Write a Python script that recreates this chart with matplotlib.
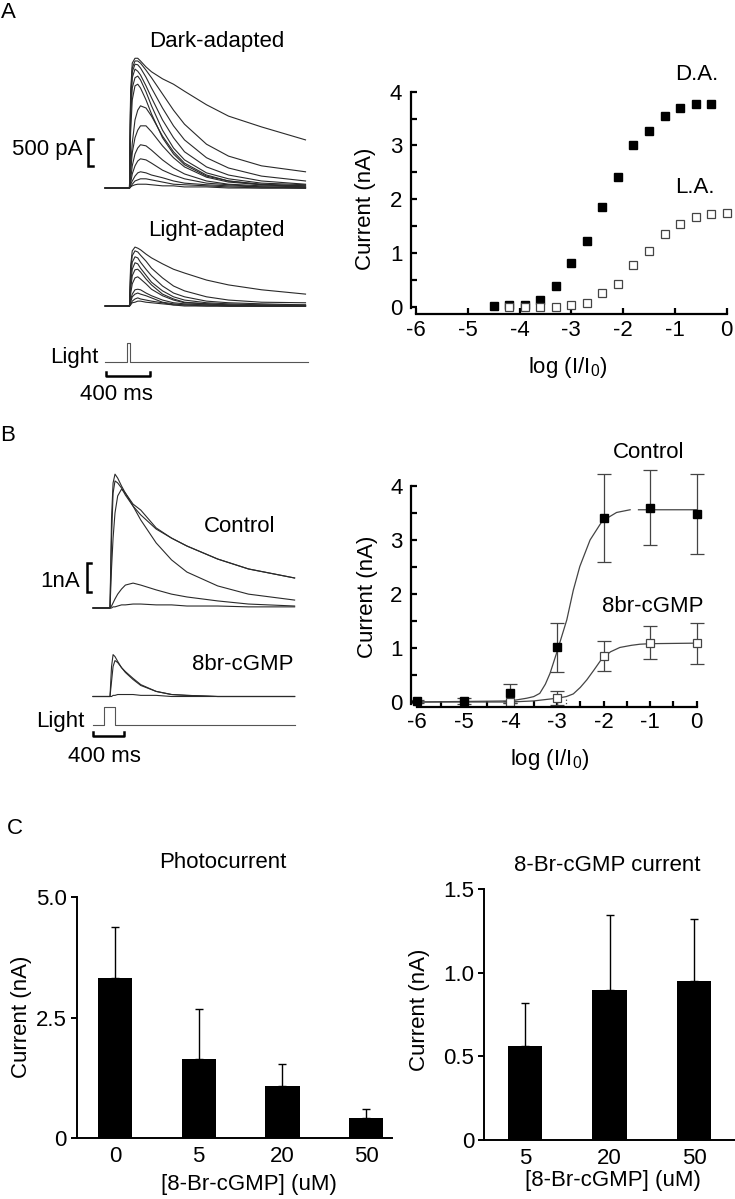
import numpy as np
import matplotlib
matplotlib.use("Agg")
import matplotlib.pyplot as plt

plt.rcParams['font.family'] = ['Liberation Sans', 'DejaVu Sans']
plt.rcParams['mathtext.default'] = 'regular'
plt.rcParams['axes.unicode_minus'] = False

W, H = 735, 1199

# ---- Panel A left: photocurrent traces (time in ms from flash, current in pA)
T_A = [-220, 0, 10, 25, 50, 75, 100, 150, 200, 300, 400, 500, 700, 900, 1200, 1600]
DARK_PA = [
    [0, 0, 1760, 2310, 2400, 2400, 2350, 2240, 2150, 2020, 1920, 1790, 1540, 1330, 1130, 890],
    [0, 0, 1670, 2220, 2350, 2350, 2310, 2180, 2040, 1740, 1440, 1180, 810, 590, 410, 300],
    [0, 0, 1570, 2150, 2290, 2280, 2220, 2050, 1850, 1480, 1150, 890, 560, 370, 220, 130],
    [0, 0, 1480, 2040, 2200, 2160, 2090, 1890, 1670, 1260, 930, 670, 390, 240, 130, 70],
    [0, 0, 1300, 1850, 2040, 2070, 2000, 1780, 1520, 1070, 740, 520, 280, 170, 90, 60],
    [0, 0, 1020, 1630, 1890, 1920, 1850, 1630, 1370, 930, 630, 430, 220, 130, 70, 40],
    [0, 0, 370, 830, 1260, 1440, 1520, 1480, 1330, 960, 670, 460, 240, 130, 60, 40],
    [0, 0, 280, 650, 930, 1070, 1150, 1150, 1040, 780, 560, 390, 200, 110, 60, 20],
    [0, 0, 150, 410, 630, 740, 800, 780, 700, 520, 370, 260, 130, 70, 40, 20],
    [0, 0, 90, 260, 410, 500, 540, 520, 460, 330, 240, 170, 90, 60, 20, 0],
    [0, 0, 60, 130, 220, 280, 300, 280, 240, 190, 130, 90, 60, 40, 20, 0],
    [0, 0, 20, 70, 130, 150, 170, 170, 150, 110, 70, 60, 40, 20, 0, 0],
    [0, 0, 20, 40, 60, 70, 70, 70, 60, 40, 40, 20, 20, 0, 0, 0],
]
LIGHT_PA = [
    [0, 0, 740, 1020, 1090, 1070, 1040, 960, 890, 780, 680, 610, 480, 390, 300, 220],
    [0, 0, 650, 930, 1020, 1000, 940, 830, 700, 520, 370, 280, 170, 110, 70, 60],
    [0, 0, 520, 810, 910, 890, 810, 680, 560, 370, 240, 170, 90, 60, 40, 20],
    [0, 0, 410, 680, 800, 780, 700, 570, 440, 280, 170, 110, 60, 40, 20, 20],
    [0, 0, 310, 560, 670, 680, 630, 500, 390, 220, 130, 70, 40, 20, 20, 0],
    [0, 0, 220, 410, 520, 540, 500, 410, 310, 190, 110, 60, 40, 20, 0, 0],
    [0, 0, 110, 220, 300, 310, 300, 240, 190, 110, 60, 40, 20, 0, 0, 0],
    [0, 0, 70, 170, 220, 240, 220, 190, 150, 70, 40, 20, 20, 0, 0, 0],
    [0, 0, 40, 90, 130, 150, 130, 110, 90, 60, 20, 20, 0, 0, 0, 0],
    [0, 0, 20, 60, 70, 90, 90, 70, 60, 40, 20, 0, 0, 0, 0, 0],
]
STIM_T_A = [-220, -25, -25, 5, 5, 1620]
STIM_T_B = [-220, -72, -72, 65, 65, 2400]
STIM_LEVEL = [0, 0, 1, 1, 0, 0]

# ---- Panel A right: intensity-response
DA_X = [-4.5, -4.2, -3.9, -3.6, -3.3, -3.0, -2.7, -2.4, -2.1, -1.8, -1.5, -1.2, -0.9, -0.6, -0.3]
DA_Y = [0.02, 0.03, 0.03, 0.12, 0.38, 0.82, 1.23, 1.85, 2.41, 3.0, 3.27, 3.55, 3.69, 3.78, 3.78]
LA_X = [-4.2, -3.9, -3.6, -3.3, -3.0, -2.7, -2.4, -2.1, -1.8, -1.5, -1.2, -0.9, -0.6, -0.3, 0.0]
LA_Y = [0.0, 0.0, 0.0, 0.0, 0.03, 0.07, 0.26, 0.43, 0.78, 1.04, 1.35, 1.54, 1.66, 1.72, 1.75]

# ---- Panel B left: traces (time in ms, current in nA)
T_B = [-220, 0, 20, 40, 65, 100, 150, 200, 300, 400, 600, 800, 1000, 1400, 1800, 2400]
CONTROL_NA = [
    [0, 0, 3.18, 4.42, 4.73, 4.59, 4.31, 4.06, 3.67, 3.46, 2.83, 2.47, 2.19, 1.73, 1.38, 1.06],
    [0, 0, 2.47, 4.06, 4.49, 4.42, 4.24, 3.99, 3.60, 3.29, 2.79, 2.47, 2.19, 1.73, 1.38, 1.06],
    [0, 0, 1.41, 2.47, 3.36, 3.96, 4.20, 4.06, 3.60, 3.11, 2.30, 1.70, 1.27, 0.78, 0.49, 0.28],
    [0, 0, 0.07, 0.18, 0.32, 0.49, 0.67, 0.81, 0.88, 0.81, 0.64, 0.49, 0.39, 0.25, 0.14, 0.07],
    [0, 0, 0, 0.04, 0.04, 0.07, 0.11, 0.11, 0.14, 0.14, 0.11, 0.11, 0.07, 0.07, 0.04, 0.04],
]
CGMP_NA = [
    [0, 0, 1.06, 1.48, 1.41, 1.24, 1.02, 0.85, 0.60, 0.39, 0.18, 0.07, 0.04, 0, 0, 0],
    [0, 0, 0.53, 1.06, 1.27, 1.20, 1.02, 0.88, 0.64, 0.42, 0.18, 0.07, 0.04, 0, 0, 0],
    [0, 0, 0, 0.04, 0.04, 0.07, 0.07, 0.07, 0.07, 0.04, 0.04, 0, 0, 0, 0, 0],
]

# ---- Panel B right: mean +/- error with fitted curves
LOGI = [-6, -5, -4, -3, -2, -1, 0]
CTRL_Y = [0.01, 0.02, 0.16, 1.01, 3.41, 3.60, 3.49]
CTRL_ERR = [0.03, 0.06, 0.17, 0.45, 0.81, 0.69, 0.74]
CGMP_X = [-4, -3, -2, -1, 0]
CGMP_Y = [0.0, 0.08, 0.85, 1.10, 1.09]
CGMP_ERR = [0.02, 0.13, 0.28, 0.31, 0.38]
CTRL_FIT_X = [-6, -4, -3.65, -3.5, -3.37, -3.25, -3.15, -3.0, -2.79, -2.65, -2.51, -2.29,
              -2.03, -1.72, -1.43, np.nan, -1.25, 0]
CTRL_FIT_Y = [0, 0.02, 0.07, 0.1, 0.16, 0.33, 0.53, 0.93, 1.52, 2.07, 2.51, 3.0,
              3.35, 3.51, 3.56, np.nan, 3.56, 3.56]
CGMP_FIT_X = [-6, -4, -3.5, -3.0, -2.8, -2.65, -2.5, -2.36, -2.2, -2.03, -1.85, -1.65,
              -1.4, -1.22, -1.0, 0]
CGMP_FIT_Y = [0, 0.0, 0.02, 0.07, 0.1, 0.15, 0.27, 0.41, 0.6, 0.81, 0.93, 1.01,
              1.05, 1.07, 1.08, 1.09]

# ---- Panel C: bar charts
PHOTO_LABELS = ['0', '5', '20', '50']
PHOTO_MEAN = [3.33, 1.63, 1.07, 0.40]
PHOTO_ERR = [1.05, 1.05, 0.46, 0.20]
CGMPCUR_LABELS = ['5', '20', '50']
CGMPCUR_MEAN = [0.565, 0.898, 0.953]
CGMPCUR_ERR = [0.255, 0.446, 0.367]

TRACE_COLOR = '#2a2a2a'
FS = 16

fig = plt.figure(figsize=(W / 100, H / 100), dpi=100)


def box(x0, y0, x1, y1):
    return fig.add_axes([x0 / W, 1 - y1 / H, (x1 - x0) / W, (y1 - y0) / H])


def ftext(x, y, s, **kw):
    kw.setdefault('fontsize', FS)
    fig.text(x / W, 1 - y / H, s, **kw)


def trace_ax(x0, y0, x1, y1, flash_px, ms_per_px, base_px, per_px):
    ax = box(x0, y0, x1, y1)
    ax.set_xlim((x0 - flash_px) * ms_per_px, (x1 - flash_px) * ms_per_px)
    ax.set_ylim((base_px - y1) * per_px, (base_px - y0) * per_px)
    ax.axis('off')
    return ax


def bracket(ax, x, x_tick, y0, y1):
    ax.plot([x_tick, x, x, x_tick], [y0, y0, y1, y1], color='black', lw=1.8,
            solid_joinstyle='miter')


def time_bar(ax, t0, length, y, tick):
    ax.plot([t0, t0, t0 + length, t0 + length], [y + tick, y, y, y + tick],
            color='black', lw=1.8)


# ================= Panel A left =================
ms_a = 9.09
ax = trace_ax(40, 45, 310, 195, 129.5, ms_a, 188, 18.5)
for tr in DARK_PA:
    ax.plot(T_A, tr, color=TRACE_COLOR, lw=0.8)
bracket(ax, -375, -335, 400, 900)

ax = trace_ax(40, 235, 310, 312, 129.5, ms_a, 306, 18.5)
for tr in LIGHT_PA:
    ax.plot(T_A, tr, color=TRACE_COLOR, lw=0.8)

ax = trace_ax(40, 335, 310, 385, 129.5, ms_a, 362, 1 / 19)
ax.plot(STIM_T_A, STIM_LEVEL, color='#555555', lw=0.8)
time_bar(ax, -218, 400, -0.74, 0.2)

ftext(217, 47, 'Dark-adapted', ha='center', va='baseline')
ftext(216, 236, 'Light-adapted', ha='center', va='baseline')
ftext(83, 155, '500 pA', ha='right', va='baseline')
ftext(99, 363, 'Light', ha='right', va='baseline')
ftext(116, 400, '400 ms', ha='center', va='baseline')

# ================= Panel B left =================
ms_b = 13.0
ax = trace_ax(20, 455, 300, 615, 110, ms_b, 608, 1 / 28.3)
for tr in CONTROL_NA:
    ax.plot(T_B, tr, color=TRACE_COLOR, lw=0.8)
bracket(ax, -295, -250, 0.576, 1.576)

ax = trace_ax(20, 640, 300, 700, 110, ms_b, 696.5, 1 / 28.3)
for tr in CGMP_NA:
    ax.plot(T_B, tr, color=TRACE_COLOR, lw=0.8)

ax = trace_ax(20, 700, 300, 745, 110, ms_b, 725, 1 / 18)
ax.plot(STIM_T_B, STIM_LEVEL, color='#555555', lw=0.8)
time_bar(ax, -217, 400, -0.61, 0.22)

ftext(240, 532, 'Control', ha='center', va='baseline')
ftext(243, 670, '8br-cGMP', ha='center', va='baseline')
ftext(80, 587, '1nA', ha='right', va='baseline')
ftext(85, 727, 'Light', ha='right', va='baseline')
ftext(104, 762, '400 ms', ha='center', va='baseline')


# ================= right-hand intensity-response panels =================
def ir_axes(x_spine, x_m6, x_0, y_xspine, y_4, y_0, minor_x):
    pxu_x = (x_0 - x_m6) / 6
    pxu_y = (y_0 - y_4) / 4
    left = -6 - (x_m6 - x_spine) / pxu_x
    bottom = -(y_xspine - y_0) / pxu_y
    right = 0 + 4 / pxu_x
    top = 4 + 4 / pxu_y
    ax = box(x_spine, y_4 - 4, x_0 + 4, y_xspine)
    ax.set_xlim(left, right)
    ax.set_ylim(bottom, top)
    for s in ['top', 'right']:
        ax.spines[s].set_visible(False)
    ax.spines['left'].set_bounds(-0.03, 4)
    ax.spines['bottom'].set_bounds(-6, 0)
    for s in ['left', 'bottom']:
        ax.spines[s].set_linewidth(1.6)
    ax.set_xticks(LOGI)
    ax.set_yticks([0, 1, 2, 3, 4])
    ax.set_yticks([0.5, 1.5, 2.5, 3.5], minor=True)
    if minor_x:
        ax.set_xticks([-5.5, -4.5, -3.5, -2.5, -1.5, -0.5], minor=True)
    ax.tick_params(which='both', direction='in', length=4, width=1.6, labelsize=FS)
    ax.tick_params(axis='y', pad=6)
    ax.tick_params(axis='x', pad=4)
    return ax


# ---- A right
ax = ir_axes(410.7, 416, 726.7, 314, 91.7, 306.7, False)
ax.plot(DA_X, DA_Y, 's', color='black', ms=5.5, clip_on=False)
ax.plot(LA_X, LA_Y, 's', mfc='white', mec='#444444', mew=0.9, ms=5.5, clip_on=False)
ftext(697, 80, 'D.A.', ha='center', va='baseline')
ftext(675, 193, 'L.A.', ha='left', va='baseline')
ftext(365, 209, 'Current (nA)', ha='center', va='center', rotation=90)
ftext(568, 373, 'log (I/I$_0$)', ha='center', va='baseline')

# ---- B right
ax = ir_axes(411, 417.3, 696.7, 706.7, 486, 702, True)
ax.plot(CTRL_FIT_X, CTRL_FIT_Y, color='#444444', lw=0.9)
ax.plot(CGMP_FIT_X, CGMP_FIT_Y, color='#444444', lw=0.9)
ax.plot([-2.8, -2.8], [-0.09, 0.08], ':', color='#444444', lw=0.9)
ax.errorbar(LOGI, CTRL_Y, yerr=CTRL_ERR, fmt='s', color='black', ms=5.5,
            ecolor='#444444', elinewidth=0.9, capsize=5, capthick=0.9, clip_on=False)
ax.errorbar(CGMP_X, CGMP_Y, yerr=CGMP_ERR, fmt='s', mfc='white', mec='#444444',
            mew=0.9, ms=5.5, ecolor='#444444', elinewidth=0.9, capsize=5,
            capthick=0.9, clip_on=False)
ftext(649, 458, 'Control', ha='center', va='baseline')
ftext(653, 612, '8br-cGMP', ha='center', va='baseline')
ftext(367, 597, 'Current (nA)', ha='center', va='center', rotation=90)
ftext(550, 765, 'log (I/I$_0$)', ha='center', va='baseline')


# ================= Panel C =================
def bar_axes(x_spine, x_right, y_top, y_0, first_center, spacing):
    ax = box(x_spine, y_top, x_right, y_0)
    left = -(first_center - x_spine) / spacing
    right = (x_right - first_center) / spacing
    ax.set_xlim(left, right)
    for s in ['top', 'right']:
        ax.spines[s].set_visible(False)
    for s in ['left', 'bottom']:
        ax.spines[s].set_linewidth(1.4)
    ax.tick_params(axis='x', length=0, pad=6, labelsize=FS)
    ax.tick_params(axis='y', direction='out', length=4, width=1.4, pad=3, labelsize=FS)
    return ax


ax = bar_axes(76.7, 392, 897.3, 1137.7, 115, 83.7)
xs = np.arange(len(PHOTO_MEAN))
ax.bar(xs, PHOTO_MEAN, width=0.41, color='black')
ax.errorbar(xs, PHOTO_MEAN, yerr=[np.zeros(len(xs)), PHOTO_ERR], fmt='none',
            ecolor='black', elinewidth=1.0, capsize=3, capthick=1.0)
ax.set_ylim(0, 5.0)
ax.set_yticks([0, 2.5, 5.0])
ax.set_yticklabels(['0', '2.5', '5.0'])
ax.set_xticks(xs)
ax.set_xticklabels(PHOTO_LABELS)
ftext(223, 868, 'Photocurrent', ha='center', va='baseline')
ftext(22, 1017, 'Current (nA)', ha='center', va='center', rotation=90)
ftext(249, 1190, '[8-Br-cGMP] (uM)', ha='center', va='baseline')

ax = bar_axes(484, 735, 889.3, 1140, 525, 84.5)
xs = np.arange(len(CGMPCUR_MEAN))
ax.bar(xs, CGMPCUR_MEAN, width=0.41, color='black')
ax.errorbar(xs, CGMPCUR_MEAN, yerr=[np.zeros(len(xs)), CGMPCUR_ERR], fmt='none',
            ecolor='black', elinewidth=1.0, capsize=3, capthick=1.0)
ax.set_ylim(0, 1.5)
ax.set_yticks([0, 0.5, 1.0, 1.5])
ax.set_yticklabels(['0', '0.5', '1.0', '1.5'])
ax.set_xticks(xs)
ax.set_xticklabels(CGMPCUR_LABELS)
ftext(607, 871, '8-Br-cGMP current', ha='center', va='baseline')
ftext(420, 1010, 'Current (nA)', ha='center', va='center', rotation=90)
ftext(613, 1186, '[8-Br-cGMP] (uM)', ha='center', va='baseline')

# panel letters
ftext(8, 18, 'A', ha='center', va='baseline')
ftext(8, 441, 'B', ha='center', va='baseline')
ftext(15, 834, 'C', ha='center', va='baseline')

fig.savefig('out.png', dpi=100)
